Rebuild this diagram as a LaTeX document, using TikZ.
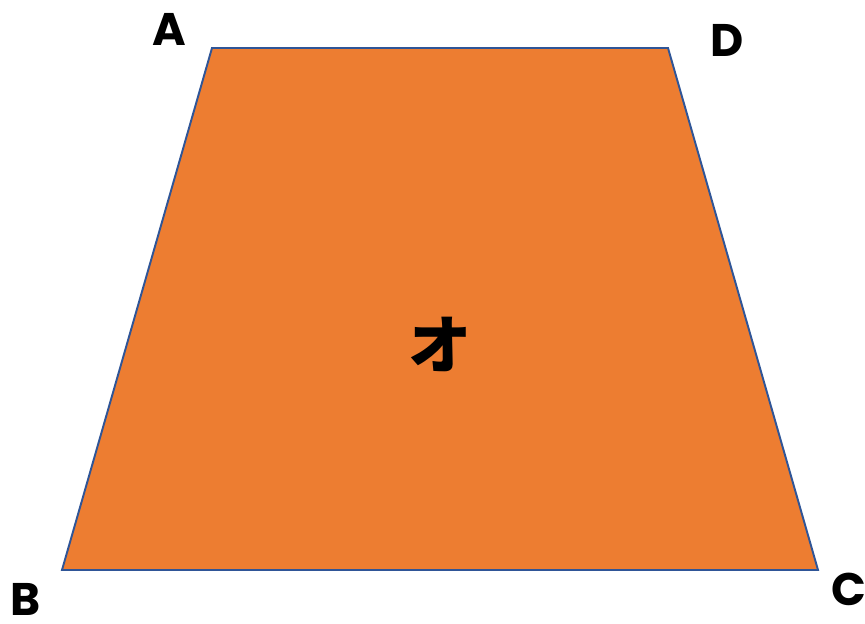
\documentclass[tikz,border=0pt]{standalone}
\usepackage{fontspec}
\setmainfont{Poppins}
\newfontfamily\jpfont{Noto Sans CJK JP}
\definecolor{trapfill}{HTML}{ED7D31}
\definecolor{trapline}{HTML}{2F5597}
\tikzset{vertexlabel/.style={inner sep=0pt,font=\fontsize{26}{26}\selectfont\bfseries}}
\begin{document}
\begin{tikzpicture}[x=0.02cm,y=-0.02cm]
\useasboundingbox (0,0) rectangle (865,624);
\coordinate (A) at (212,48);
\coordinate (D) at (668,48);
\coordinate (C) at (818,570);
\coordinate (B) at (62,570);
\draw[fill=trapfill,draw=trapline,line width=1.1pt] (A) -- (D) -- (C) -- (B) -- cycle;
\node[font=\jpfont\fontsize{36}{36}\selectfont\bfseries] (o) at (440,344) {オ};

\node[vertexlabel] (la) at (169.5,29) {A};
\node[vertexlabel] (ld) at (727,40) {D};
\node[vertexlabel] (lb) at (26,599) {B};
\node[vertexlabel] (lc) at (849,589.5) {C};
\end{tikzpicture}
\end{document}
